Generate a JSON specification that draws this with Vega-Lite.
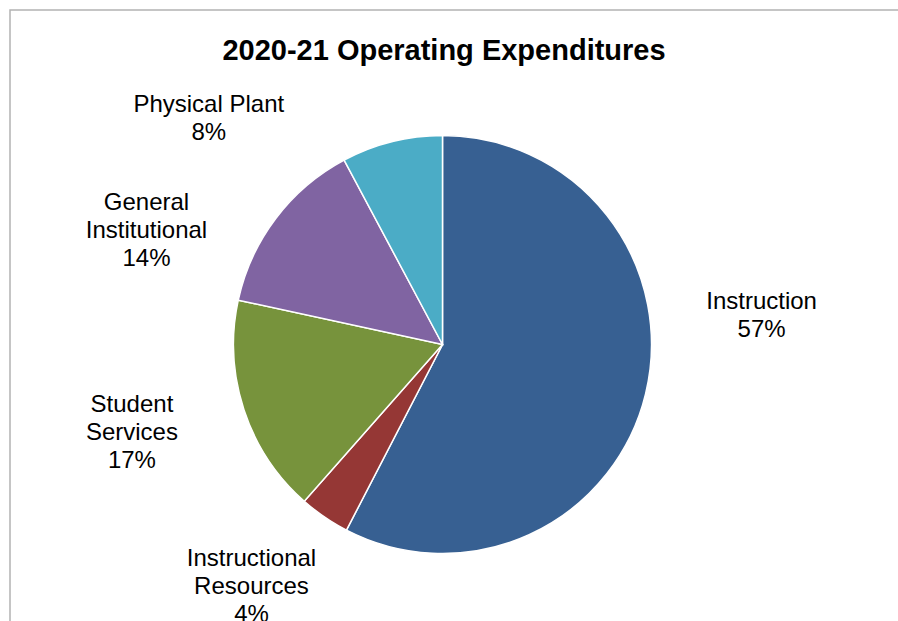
{
  "$schema": "https://vega.github.io/schema/vega-lite/v6.json",
  "width": 891,
  "height": 614,
  "autosize": {"type": "none"},
  "padding": {"left": 10, "top": 10, "right": -3, "bottom": -3},
  "background": "white",
  "view": {"stroke": "#b3b3b3", "strokeWidth": 1.5, "fill": "white"},
  "title": {
    "text": "2020-21 Operating Expenditures",
    "font": "Liberation Sans",
    "fontSize": 29,
    "fontWeight": "bold",
    "color": "#000000",
    "anchor": "middle",
    "offset": -56,
    "dx": -11.5
  },
  "data": {
    "values": [
      {"category": "Instruction", "value": 57.6, "order": 1, "label": "Instruction\n57%"},
      {"category": "Instructional Resources", "value": 3.9, "order": 2, "label": "Instructional\nResources\n4%"},
      {"category": "Student Services", "value": 16.9, "order": 3, "label": "Student\nServices\n17%"},
      {"category": "General Institutional", "value": 13.8, "order": 4, "label": "General\nInstitutional\n14%"},
      {"category": "Physical Plant", "value": 7.8, "order": 5, "label": "Physical Plant\n8%"}
    ]
  },
  "encoding": {
    "theta": {"field": "value", "type": "quantitative", "stack": true},
    "order": {"field": "order", "type": "quantitative"}
  },
  "layer": [
    {
      "mark": {"type": "arc", "outerRadius": 209, "x": 432.5, "y": 334.5, "stroke": "#ffffff", "strokeWidth": 1.5},
      "encoding": {
        "color": {
          "field": "category",
          "type": "nominal",
          "scale": {
            "domain": ["Instruction", "Instructional Resources", "Student Services", "General Institutional", "Physical Plant"],
            "range": ["#376092", "#953735", "#77933C", "#8064A2", "#4BACC6"]
          },
          "legend": null
        }
      }
    },
    {
      "mark": {"type": "text", "radius": 209, "x": 432.5, "y": 334.5, "dx": 116, "dy": -91.5, "font": "Liberation Sans", "fontSize": 24, "lineHeight": 28, "lineBreak": "\n", "align": "center", "baseline": "middle", "color": "#000000"},
      "encoding": {"text": {"condition": {"test": "datum.category === 'Instruction'", "field": "label"}, "value": ""}}
    },
    {
      "mark": {"type": "text", "radius": 209, "x": 432.5, "y": 334.5, "dx": -73, "dy": 42, "font": "Liberation Sans", "fontSize": 24, "lineHeight": 28, "lineBreak": "\n", "align": "center", "baseline": "middle", "color": "#000000"},
      "encoding": {"text": {"condition": {"test": "datum.category === 'Instructional Resources'", "field": "label"}, "value": ""}}
    },
    {
      "mark": {"type": "text", "radius": 209, "x": 432.5, "y": 334.5, "dx": -112, "dy": -4.8, "font": "Liberation Sans", "fontSize": 24, "lineHeight": 28, "lineBreak": "\n", "align": "center", "baseline": "middle", "color": "#000000"},
      "encoding": {"text": {"condition": {"test": "datum.category === 'Student Services'", "field": "label"}, "value": ""}}
    },
    {
      "mark": {"type": "text", "radius": 209, "x": 432.5, "y": 334.5, "dx": -129.3, "dy": -15, "font": "Liberation Sans", "fontSize": 24, "lineHeight": 28, "lineBreak": "\n", "align": "center", "baseline": "middle", "color": "#000000"},
      "encoding": {"text": {"condition": {"test": "datum.category === 'General Institutional'", "field": "label"}, "value": ""}}
    },
    {
      "mark": {"type": "text", "radius": 209, "x": 432.5, "y": 334.5, "dx": -183, "dy": -36.7, "font": "Liberation Sans", "fontSize": 24, "lineHeight": 28, "lineBreak": "\n", "align": "center", "baseline": "middle", "color": "#000000"},
      "encoding": {"text": {"condition": {"test": "datum.category === 'Physical Plant'", "field": "label"}, "value": ""}}
    }
  ],
  "config": {
    "view": {"stroke": "#b3b3b3", "strokeWidth": 1.5}
  }
}
